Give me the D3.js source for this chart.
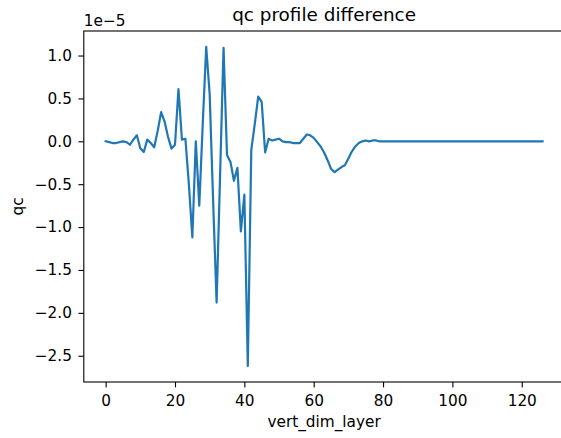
<!DOCTYPE html>
<html>
<head>
<meta charset="utf-8">
<script src="https://cdn.jsdelivr.net/npm/d3@7"></script>
<style>
  html, body { margin: 0; padding: 0; background: #fff; }
  svg { display: block; font-family: "DejaVu Sans", sans-serif; }
</style>
</head>
<body>
<svg id="chart" width="561" height="438"></svg>
<script>
// values are in units of 1e-5
const title = "qc profile difference";
const xLabel = "vert_dim_layer";
const yLabel = "qc";
const offsetText = "1e\u22125";
const qcDiff = [
  0.00, -0.01, -0.02, -0.02, -0.01, 0.00, -0.01, -0.04, 0.02, 0.07,
  -0.08, -0.125, 0.02, -0.02, -0.07, 0.12, 0.34, 0.23, 0.05, -0.085,
  -0.04, 0.61, 0.02, 0.03, -0.50, -1.12, 0.00, -0.75, 0.20, 1.10,
  0.55, -0.70, -1.88, -0.40, 1.09, -0.16, -0.24, -0.46, -0.31, -1.05,
  -0.62, -2.62, -0.10, 0.20, 0.52, 0.46, -0.13, 0.03, 0.01, 0.02,
  0.03, 0.00, -0.01, -0.01, -0.02, -0.02, -0.02, 0.03, 0.08, 0.07,
  0.04, -0.01, -0.06, -0.13, -0.22, -0.32, -0.36, -0.33, -0.30, -0.28,
  -0.20, -0.12, -0.06, -0.02, 0.00, 0.01, 0.00, 0.01, 0.01, 0.00,
  0, 0, 0, 0, 0, 0, 0, 0, 0, 0,
  0, 0, 0, 0, 0, 0, 0, 0, 0, 0,
  0, 0, 0, 0, 0, 0, 0, 0, 0, 0,
  0, 0, 0, 0, 0, 0, 0, 0, 0, 0,
  0, 0, 0, 0, 0, 0, 0
];
const layers = qcDiff.map((_, i) => i);
const xTicks = [0, 20, 40, 60, 80, 100, 120];
const yTicks = [1.0, 0.5, 0.0, -0.5, -1.0, -1.5, -2.0, -2.5];

const svg = d3.select("#chart");
const L = 83.8, R = 564.4, T = 31, B = 382;
const fs = 15.3;

const xMin = d3.min(layers), xMax = d3.max(layers);
const xPad = (xMax - xMin) * 0.05;
const x = d3.scaleLinear().domain([xMin - xPad, xMax + xPad]).range([L, R]);
const yMin = d3.min(qcDiff), yMax = d3.max(qcDiff);
const yPad = (yMax - yMin) * 0.05;
const y = d3.scaleLinear().domain([yMin - yPad, yMax + yPad]).range([B, T]);

const fmt = v => d3.format(".1f")(v).replace("-", "\u2212");

// line
svg.append("path")
  .datum(qcDiff)
  .attr("fill", "none")
  .attr("stroke", "#1f77b4")
  .attr("stroke-width", 2.2)
  .attr("stroke-linejoin", "round")
  .attr("stroke-linecap", "square")
  .attr("d", d3.line().x((d, i) => x(layers[i])).y(d => y(d)));

// x axis
const xAxis = svg.append("g")
  .attr("transform", `translate(0,${B})`)
  .call(d3.axisBottom(x).tickValues(xTicks).tickSize(5.4).tickPadding(7.5).tickFormat(d3.format("d")));
xAxis.select(".domain").remove();
xAxis.selectAll("line").attr("stroke", "#000").attr("stroke-width", 1.1);
xAxis.selectAll("text").attr("font-size", fs).attr("fill", "#000").attr("font-family", "DejaVu Sans");

// y axis
const yAxis = svg.append("g")
  .attr("transform", `translate(${L},0)`)
  .call(d3.axisLeft(y).tickValues(yTicks).tickSize(5.4).tickPadding(6.5).tickFormat(fmt));
yAxis.select(".domain").remove();
yAxis.selectAll("line").attr("stroke", "#000").attr("stroke-width", 1.1);
yAxis.selectAll("text").attr("font-size", fs).attr("fill", "#000").attr("font-family", "DejaVu Sans");

// spines
svg.append("rect")
  .attr("x", L).attr("y", T).attr("width", R - L).attr("height", B - T)
  .attr("fill", "none").attr("stroke", "#000").attr("stroke-width", 1.1);

// texts
svg.append("text").attr("x", (L + R) / 2).attr("y", 21)
  .attr("text-anchor", "middle").attr("font-size", 18.4).attr("fill", "#000").text(title);
svg.append("text").attr("x", L).attr("y", 26)
  .attr("text-anchor", "start").attr("font-size", fs).attr("fill", "#000").text(offsetText);
svg.append("text").attr("x", (L + R) / 2).attr("y", 427)
  .attr("text-anchor", "middle").attr("font-size", fs).attr("fill", "#000").text(xLabel);
svg.append("text")
  .attr("transform", `translate(23,${(T + B) / 2}) rotate(-90)`)
  .attr("text-anchor", "middle").attr("font-size", fs).attr("fill", "#000").text(yLabel);
</script>
</body>
</html>
